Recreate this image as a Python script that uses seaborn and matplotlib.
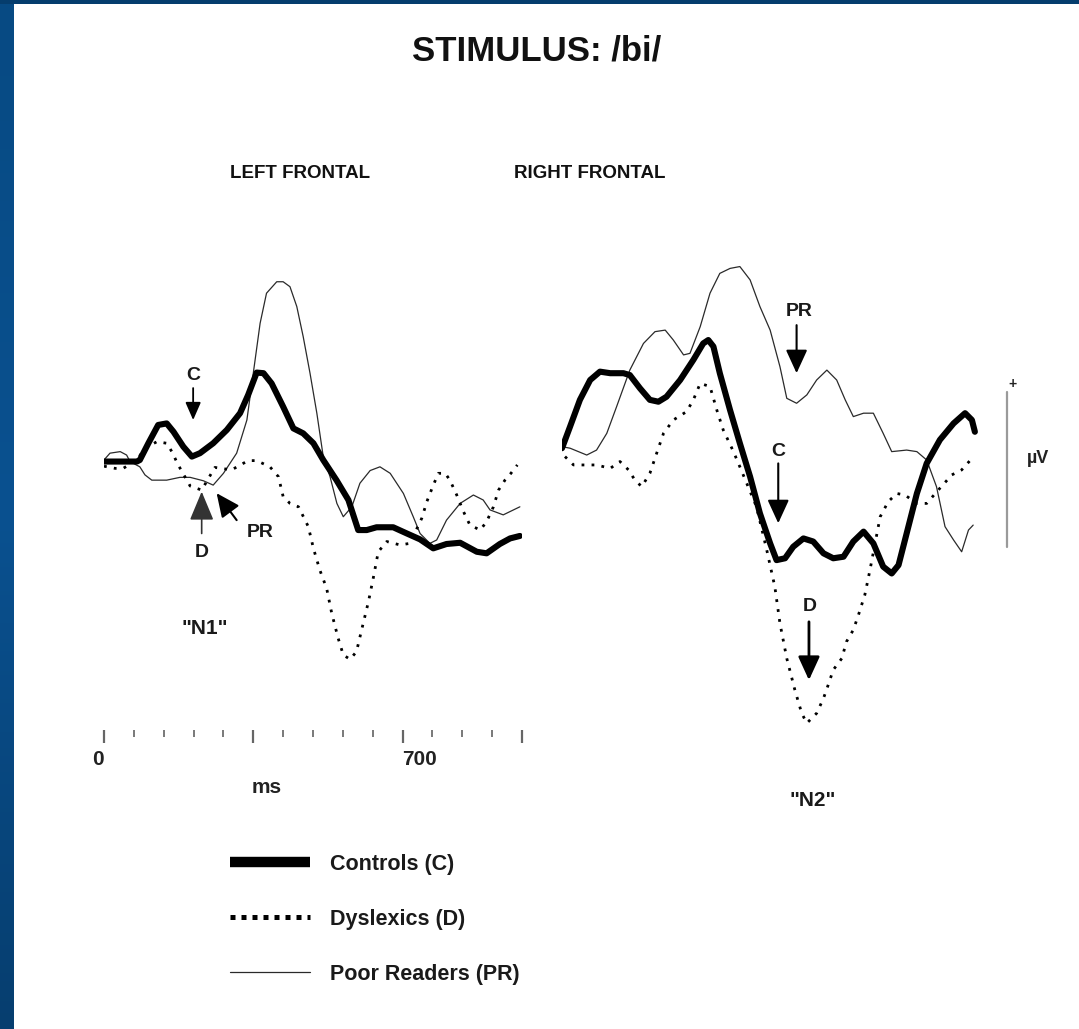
import numpy as np
import pandas as pd
import matplotlib
matplotlib.use("Agg")
import matplotlib.pyplot as plt
import seaborn as sns
from matplotlib.lines import Line2D
from matplotlib.patches import Rectangle
from matplotlib.colors import LinearSegmentedColormap

# ---------------- data (time in ms, amplitude in µV, positive up) ----------------
LEFT_C_T = [0, 77, 84, 104, 127, 147, 163, 186, 206, 225, 256, 288, 319, 338, 358, 374, 393, 420,
            444, 467, 491, 514, 545, 573, 596, 616, 639, 678, 710, 741, 772, 803, 835, 874, 897, 928, 952, 975]
LEFT_C_V = [-0.05, -0.05, 0.0, 0.54, 1.13, 1.18, 0.91, 0.43, 0.11, 0.22, 0.54, 0.97, 1.51, 2.10, 2.82, 2.80,
            2.47, 1.72, 1.02, 0.86, 0.54, 0.0, -0.65, -1.29, -2.26, -2.26, -2.17, -2.17, -2.37, -2.56, -2.85,
            -2.71, -2.67, -2.96, -3.01, -2.71, -2.53, -2.45]

LEFT_PR_T = [0, 14, 38, 53, 61, 84, 96, 112, 147, 178, 202, 233, 256, 280, 311, 335, 350, 366, 381, 405,
             420, 436, 452, 467, 483, 499, 514, 530, 546, 561, 581, 600, 624, 647, 671, 702, 725, 741, 764,
             780, 803, 835, 866, 889, 905, 936, 960, 975]
LEFT_PR_V = [0.0, 0.22, 0.27, 0.16, -0.05, -0.22, -0.48, -0.65, -0.65, -0.56, -0.56, -0.67, -0.81, -0.43,
             0.22, 1.29, 2.80, 4.41, 5.38, 5.75, 5.75, 5.59, 4.95, 3.98, 2.80, 1.51, 0.11, -0.54, -1.40, -1.83,
             -1.51, -0.75, -0.34, -0.22, -0.43, -1.08, -1.83, -2.37, -2.69, -2.58, -1.94, -1.40, -1.13, -1.29,
             -1.61, -1.77, -1.61, -1.51]

LEFT_D_T = [0, 26, 45, 77, 96, 124, 147, 159, 174, 202, 229, 245, 260, 299, 338, 358, 389, 409, 420, 436,
            456, 479, 491, 506, 522, 534, 549, 561, 577, 592, 604, 620, 632, 643, 663, 694, 717, 745, 757,
            772, 784, 800, 811, 827, 843, 858, 882, 897, 913, 925, 940, 954, 969]
LEFT_D_V = [-0.2, -0.27, -0.27, 0.0, 0.38, 0.59, 0.54, 0.27, -0.16, -0.84, -0.97, -0.59, -0.24, -0.32,
            -0.02, -0.02, -0.22, -0.54, -1.18, -1.40, -1.51, -2.15, -2.85, -3.55, -4.14, -4.95, -5.75, -6.29,
            -6.43, -6.18, -5.48, -4.57, -3.76, -2.96, -2.63, -2.74, -2.69, -1.88, -1.34, -0.81, -0.43, -0.43,
            -0.65, -1.13, -1.67, -2.10, -2.26, -1.99, -1.51, -0.97, -0.65, -0.43, -0.16]

RIGHT_C_T = [0, 19, 42, 66, 89, 113, 144, 159, 183, 206, 226, 245, 277, 308, 331, 343, 355, 370, 394, 417,
             441, 464, 488, 503, 523, 542, 566, 589, 613, 636, 660, 683, 707, 730, 753, 773, 789, 808, 832,
             855, 886, 918, 945, 961, 968]
RIGHT_C_V = [0.38, 1.08, 1.94, 2.58, 2.85, 2.80, 2.80, 2.74, 2.31, 1.94, 1.88, 2.04, 2.58, 3.23, 3.76, 3.87,
             3.66, 2.80, 1.61, 0.54, -0.54, -1.72, -2.69, -3.23, -3.17, -2.80, -2.53, -2.63, -3.01, -3.17,
             -3.12, -2.63, -2.31, -2.69, -3.44, -3.66, -3.39, -2.37, -1.08, -0.11, 0.65, 1.18, 1.51, 1.29, 0.91]

RIGHT_PR_T = [0, 19, 58, 81, 105, 128, 159, 191, 218, 242, 261, 285, 300, 324, 347, 370, 394, 417, 441, 464,
              488, 511, 527, 550, 574, 597, 621, 644, 664, 683, 707, 730, 753, 773, 808, 832, 855, 878, 898,
              918, 937, 953, 964]
RIGHT_PR_V = [0.43, 0.38, 0.16, 0.32, 0.86, 1.72, 2.90, 3.76, 4.14, 4.19, 3.87, 3.39, 3.44, 4.30, 5.38, 6.02,
              6.18, 6.24, 5.81, 4.95, 4.19, 3.01, 1.99, 1.83, 2.10, 2.58, 2.90, 2.58, 1.94, 1.40, 1.51, 1.51,
              0.86, 0.27, 0.32, 0.27, 0.0, -0.86, -2.15, -2.58, -2.96, -2.26, -2.10]

RIGHT_D_T = [7, 27, 81, 113, 136, 156, 171, 187, 206, 222, 238, 261, 292, 308, 324, 347, 363, 378, 402, 417,
             456, 480, 499, 511, 527, 546, 562, 574, 597, 613, 624, 636, 656, 667, 683, 695, 710, 722, 746,
             765, 785, 804, 832, 855, 886, 914, 937, 961]
RIGHT_D_V = [0.11, -0.16, -0.16, -0.27, -0.05, -0.32, -0.65, -0.86, -0.43, 0.22, 0.86, 1.29, 1.56, 1.94,
             2.47, 2.37, 1.61, 0.97, 0.27, -0.22, -1.51, -2.90, -4.09, -5.27, -6.40, -7.42, -8.17, -8.49,
             -8.17, -7.69, -7.26, -6.77, -6.40, -5.86, -5.48, -5.00, -4.35, -3.55, -1.83, -1.34, -1.08, -1.13,
             -1.40, -1.40, -0.91, -0.48, -0.32, 0.05]

TICKS_MS = [0, 70, 140, 210, 280, 350, 420, 490, 560, 630, 700, 770, 840, 910, 980]
MAJOR_TICKS_MS = [0, 350, 700, 980]
TICK_LABELS = {0: "0", 700: "700"}

SCALE_BAR_TIME = 1043
SCALE_BAR_TOP = 2.19
SCALE_BAR_UV = 5.0

LEGEND_LABELS = ["Controls (C)", "Dyslexics (D)", "Poor Readers (PR)"]

# ---------------- styling ----------------
sns.set_theme(style="white")
plt.rcParams['font.family'] = ['Liberation Sans', 'DejaVu Sans']

W, H = 1079, 1029
fig = plt.figure(figsize=(W / 100, H / 100), dpi=100)
fig.patch.set_facecolor('white')


def fx(px):
    return px / W


def fy(py):
    return 1 - py / H


# blue frame (left strip gradient + thin top strip)
strip = fig.add_axes([0, 0, fx(14), 1])
grad = np.linspace(0, 1, 256).reshape(-1, 1)
cmap = LinearSegmentedColormap.from_list("frame", ["#074a83", "#0a5190", "#063e6f"])
strip.imshow(grad, aspect='auto', cmap=cmap, extent=[0, 1, 0, 1])
strip.set_axis_off()
fig.patches.append(Rectangle((0, fy(4)), 1, 4 / H, transform=fig.transFigure,
                             facecolor="#053d6d", edgecolor='none', zorder=5))

YMIN, YMAX = -10.0, 6.774
ax_l = fig.add_axes([fx(104), fy(770), fx(522) - fx(104), (770 - 250) / H])
ax_r = fig.add_axes([fx(562), fy(770), fx(980) - fx(562), (770 - 250) / H])
for ax in (ax_l, ax_r):
    ax.set_xlim(0, 980)
    ax.set_ylim(YMIN, YMAX)
    ax.set_facecolor('none')
    for s in ax.spines.values():
        s.set_visible(False)
    ax.tick_params(left=False, labelleft=False)

C_KW = dict(color='black', linewidth=4.4, solid_capstyle='round', solid_joinstyle='round')
D_KW = dict(color='black', linewidth=2.0, linestyle=(0, (1, 2.6)), dash_capstyle='butt')
PR_KW = dict(color='#2a2a2a', linewidth=0.9)

for ax, (ct, cv), (dt, dv), (pt, pv) in [
        (ax_l, (LEFT_C_T, LEFT_C_V), (LEFT_D_T, LEFT_D_V), (LEFT_PR_T, LEFT_PR_V)),
        (ax_r, (RIGHT_C_T, RIGHT_C_V), (RIGHT_D_T, RIGHT_D_V), (RIGHT_PR_T, RIGHT_PR_V))]:
    sns.lineplot(x=pt, y=pv, ax=ax, estimator=None, sort=False, legend=False, **PR_KW)
    sns.lineplot(x=dt, y=dv, ax=ax, estimator=None, sort=False, legend=False, **D_KW)
    sns.lineplot(x=ct, y=cv, ax=ax, estimator=None, sort=False, legend=False, **C_KW)
    ax.set_xlabel("")
    ax.set_ylabel("")

# time axis under left panel
ax_l.spines['bottom'].set_position(('data', -8.71))
ax_l.set_xticks(MAJOR_TICKS_MS)
ax_l.set_xticks([t for t in TICKS_MS if t not in MAJOR_TICKS_MS], minor=True)
ax_l.tick_params(axis='x', which='major', bottom=True, direction='out', length=9.5, width=1.6,
                 color='#666666', labelbottom=False)
ax_l.tick_params(axis='x', which='minor', bottom=True, direction='out', length=5, width=1.1,
                 color='#555555', labelbottom=False)
ax_r.tick_params(bottom=False, labelbottom=False)
ax_l.text(0, -9.65, TICK_LABELS[0], ha='right', va='center', fontsize=15, fontweight='bold', color='#222')
ax_l.text(700, -9.65, TICK_LABELS[700], ha='left', va='center', fontsize=15, fontweight='bold', color='#222')
ax_l.text(382, -10.55, "ms", ha='center', va='center', fontsize=15, fontweight='bold', color='#222')

# annotations
small = dict(arrowstyle='-|>,head_length=0.4,head_width=0.175', color='black', lw=1.3,
             shrinkA=0, shrinkB=0, mutation_scale=27)
big = dict(arrowstyle='-|>,head_length=0.48,head_width=0.22', color='black', lw=1.5,
           shrinkA=0, shrinkB=0, mutation_scale=30)
dbig = dict(arrowstyle='-|>,head_length=0.6,head_width=0.25', color='#333', lw=1.2,
            shrinkA=0, shrinkB=0, mutation_scale=30)
lab = dict(ha='center', va='center', fontsize=14, fontweight='bold', color='#1a1a1a')

ax_l.text(209, 2.74, "C", **lab)
ax_l.annotate('', xy=(209, 1.29), xytext=(209, 2.32), arrowprops=small)
ax_l.text(229, -3.0, "D", **lab)
ax_l.annotate('', xy=(229, -1.02), xytext=(229, -2.37), arrowprops=dbig)
ax_l.text(366, -2.35, "PR", **lab)
ax_l.annotate('', xy=(264, -1.07), xytext=(311, -1.94), arrowprops=big)
ax_l.text(237, -5.42, '"N1"', **dict(lab, fontsize=15))

ax_r.text(556, 4.78, "PR", **lab)
ax_r.annotate('', xy=(550, 2.80), xytext=(550, 4.35), arrowprops=big)
ax_r.text(507, 0.27, "C", **lab)
ax_r.annotate('', xy=(507, -2.04), xytext=(507, -0.11), arrowprops=big)
ax_r.text(581, -4.73, "D", **lab)
ax_r.annotate('', xy=(579, -7.10), xytext=(579, -5.22), arrowprops=dict(big, lw=2.0))
ax_r.text(588, -10.97, '"N2"', **dict(lab, fontsize=15))

# calibration bar
ax_r.plot([SCALE_BAR_TIME, SCALE_BAR_TIME], [SCALE_BAR_TOP, SCALE_BAR_TOP - SCALE_BAR_UV],
          color='#9a9a9a', lw=1.6, clip_on=False)
ax_r.text(1057, 2.45, "+", ha='center', va='center', fontsize=10, fontweight='bold', color='#222')
ax_r.text(1116, 0.06, "µV", ha='center', va='center', fontsize=13, fontweight='bold', color='#222')

# titles
fig.text(fx(537), fy(51), "STIMULUS: /bi/", ha='center', va='center', fontsize=25, fontweight='bold',
         color='#111')
fig.text(fx(300), fy(173), "LEFT FRONTAL", ha='center', va='center', fontsize=13.5, fontweight='bold',
         color='#111')
fig.text(fx(590), fy(173), "RIGHT FRONTAL", ha='center', va='center', fontsize=13.5, fontweight='bold',
         color='#111')

# legend
handles = [
    Line2D([], [], color='black', linewidth=7.5, solid_capstyle='butt'),
    Line2D([], [], color='black', linewidth=3.6, linestyle=(0, (1, 1.2)), dash_capstyle='butt'),
    Line2D([], [], color='#2a2a2a', linewidth=0.9),
]
leg = fig.legend(handles, LEGEND_LABELS, loc='upper left', bbox_to_anchor=(fx(230), fy(854)),
                 frameon=False, borderpad=0, borderaxespad=0, handlelength=3.72, handletextpad=0.93,
                 labelspacing=1.57, prop=dict(family='Liberation Sans', weight='bold', size=15.5))
for t in leg.get_texts():
    t.set_color('#1a1a1a')

fig.savefig("out.png", dpi=100, facecolor='white')
